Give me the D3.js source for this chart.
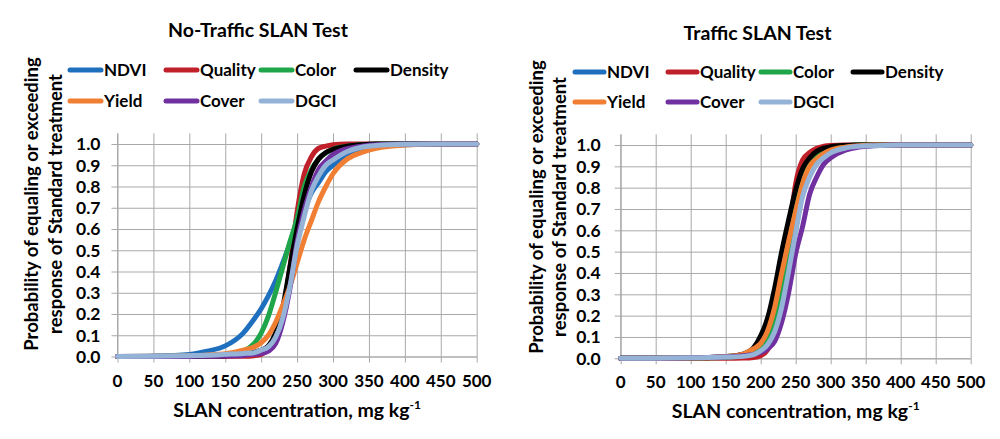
<!DOCTYPE html>
<html>
<head>
<meta charset="utf-8">
<script src="https://cdn.jsdelivr.net/npm/d3@7"></script>
<style>
  html, body { margin: 0; padding: 0; background: #ffffff; }
  svg { display: block; }
  text { font-family: Lato, "Open Sans", sans-serif; font-weight: bold; fill: #000; }
</style>
</head>
<body>
<svg id="chart" width="1000" height="439"></svg>
<script>
// ---------- DATA ----------
const xValues = [0, 50, 100, 125, 150, 175, 190, 200, 210, 220, 230, 240, 250, 260, 270, 280, 290, 300, 320, 340, 360, 400, 450, 500];

const seriesNames = ["NDVI", "Quality", "Color", "Density", "Yield", "Cover", "DGCI"];
const seriesColors = ["#1f6fbf", "#c0202a", "#1fa64a", "#000000", "#f07f33", "#7030a0", "#95b3d7"];

const xTickLabels = [0, 50, 100, 150, 200, 250, 300, 350, 400, 450, 500];
const yTickLabels = [0.0, 0.1, 0.2, 0.3, 0.4, 0.5, 0.6, 0.7, 0.8, 0.9, 1.0];

const panelTitles = ["No-Traffic SLAN Test", "Traffic SLAN Test"];

// No-Traffic panel
const noTrafficNDVI    = [0, 0.002, 0.01, 0.025, 0.05, 0.11, 0.175, 0.225, 0.285, 0.355, 0.44, 0.53, 0.61, 0.69, 0.77, 0.82, 0.87, 0.90, 0.95, 0.975, 0.987, 0.996, 1, 1];
const noTrafficQuality = [0, 0, 0, 0, 0.0005, 0.001, 0.004, 0.01, 0.03, 0.08, 0.2, 0.42, 0.68, 0.86, 0.94, 0.98, 0.99, 0.997, 1, 1, 1, 1, 1, 1];
const noTrafficColor   = [0, 0.0005, 0.002, 0.004, 0.01, 0.025, 0.06, 0.11, 0.19, 0.30, 0.42, 0.54, 0.65, 0.80, 0.88, 0.93, 0.958, 0.975, 0.99, 0.997, 1, 1, 1, 1];
const noTrafficDensity = [0, 0, 0.001, 0.002, 0.004, 0.01, 0.02, 0.03, 0.05, 0.11, 0.23, 0.42, 0.6, 0.76, 0.87, 0.93, 0.96, 0.975, 0.99, 0.997, 1, 1, 1, 1];
const noTrafficYield   = [0, 0.001, 0.004, 0.007, 0.013, 0.03, 0.045, 0.065, 0.1, 0.16, 0.24, 0.33, 0.44, 0.55, 0.64, 0.73, 0.8, 0.86, 0.93, 0.96, 0.98, 0.995, 1, 1];
const noTrafficCover   = [0, 0, 0.0005, 0.001, 0.002, 0.005, 0.01, 0.015, 0.025, 0.06, 0.16, 0.32, 0.54, 0.69, 0.8, 0.88, 0.92, 0.95, 0.978, 0.99, 0.996, 1, 1, 1];
const noTrafficDGCI    = [0, 0.001, 0.004, 0.006, 0.01, 0.014, 0.018, 0.03, 0.045, 0.09, 0.18, 0.33, 0.52, 0.66, 0.78, 0.85, 0.9, 0.925, 0.965, 0.985, 0.993, 0.999, 1, 1];

// Traffic panel
const trafficNDVI    = [0, 0, 0.001, 0.003, 0.007, 0.016, 0.035, 0.06, 0.11, 0.21, 0.36, 0.53, 0.7, 0.83, 0.91, 0.95, 0.975, 0.987, 0.996, 1, 1, 1, 1, 1];
const trafficQuality = [0, 0, 0, 0, 0, 0.001, 0.004, 0.012, 0.04, 0.12, 0.3, 0.57, 0.82, 0.93, 0.965, 0.985, 0.994, 0.998, 1, 1, 1, 1, 1, 1];
const trafficColor   = [0, 0, 0.001, 0.002, 0.005, 0.012, 0.025, 0.04, 0.085, 0.17, 0.32, 0.52, 0.74, 0.85, 0.92, 0.96, 0.978, 0.988, 0.996, 1, 1, 1, 1, 1];
const trafficDensity = [0, 0, 0.001, 0.003, 0.008, 0.02, 0.05, 0.105, 0.19, 0.33, 0.5, 0.65, 0.79, 0.89, 0.94, 0.97, 0.985, 0.992, 0.998, 1, 1, 1, 1, 1];
const trafficYield   = [0, 0, 0.001, 0.003, 0.008, 0.02, 0.045, 0.07, 0.13, 0.24, 0.4, 0.55, 0.69, 0.82, 0.9, 0.935, 0.96, 0.976, 0.99, 0.996, 1, 1, 1, 1];
const trafficCover   = [0, 0, 0.002, 0.004, 0.007, 0.012, 0.018, 0.027, 0.045, 0.08, 0.17, 0.31, 0.49, 0.62, 0.77, 0.85, 0.91, 0.94, 0.975, 0.99, 0.996, 1, 1, 1];
const trafficDGCI    = [0, 0.0005, 0.002, 0.004, 0.006, 0.009, 0.017, 0.035, 0.065, 0.125, 0.24, 0.41, 0.59, 0.76, 0.85, 0.91, 0.94, 0.963, 0.985, 0.994, 0.997, 1, 1, 1];

const noTrafficSeries = [noTrafficNDVI, noTrafficQuality, noTrafficColor, noTrafficDensity, noTrafficYield, noTrafficCover, noTrafficDGCI];
const trafficSeries   = [trafficNDVI, trafficQuality, trafficColor, trafficDensity, trafficYield, trafficCover, trafficDGCI];

// ---------- DRAWING ----------
const svg = d3.select("#chart");

function drawPanel(cfg) {
  const g = svg.append("g");
  const x = d3.scaleLinear().domain([0, 500]).range([cfg.x0, cfg.x1]);
  const y = d3.scaleLinear().domain([0, 1]).range([cfg.yBottom, cfg.yTop]);
  const yTopDomain = y(1.05);

  // vertical gridlines
  g.append("g").attr("transform", `translate(0,${cfg.yBottom})`)
    .call(d3.axisBottom(x).tickValues(xTickLabels)
      .tickSize(-(cfg.yBottom - yTopDomain)).tickSizeOuter(0).tickFormat(""))
    .call(a => a.select(".domain").remove())
    .call(a => a.selectAll("line").attr("stroke", "#a9a9a9").attr("stroke-width", 1));
  g.append("g").attr("transform", `translate(0,${cfg.yBottom})`)
    .call(d3.axisBottom(x).tickValues(xTickLabels).tickSize(6).tickSizeOuter(0).tickFormat(""))
    .call(a => a.select(".domain").attr("stroke", "#a9a9a9"))
    .call(a => a.selectAll("line").attr("stroke", "#a9a9a9"));

  // horizontal gridlines
  g.append("g").attr("transform", `translate(${cfg.x0},0)`)
    .call(d3.axisLeft(y).tickValues(yTickLabels)
      .tickSize(-(cfg.x1 - cfg.x0)).tickSizeOuter(0).tickFormat(""))
    .call(a => a.select(".domain").remove())
    .call(a => a.selectAll("line").attr("stroke", "#a9a9a9").attr("stroke-width", 1));
  g.append("g").attr("transform", `translate(${cfg.x0},0)`)
    .call(d3.axisLeft(y).tickValues(yTickLabels).tickSize(6).tickSizeOuter(0).tickFormat(""))
    .call(a => a.select(".domain").attr("stroke", "#a9a9a9").attr("d", `M0,${cfg.yBottom}V${yTopDomain}`))
    .call(a => a.selectAll("line").attr("stroke", "#a9a9a9"));

  // tick labels
  g.append("g").selectAll("text").data(xTickLabels).join("text")
    .attr("x", d => x(d)).attr("y", cfg.yBottom + 30)
    .attr("text-anchor", "middle").attr("font-size", 17)
    .text(d => d);
  g.append("g").selectAll("text").data(yTickLabels).join("text")
    .attr("x", cfg.x0 - cfg.yLabelGap).attr("y", d => y(d)).attr("dy", "0.36em")
    .attr("text-anchor", "end").attr("font-size", 17.5)
    .text(d => d3.format(".1f")(d));

  // series lines
  const line = d3.line()
    .x((d, i) => x(xValues[i]))
    .y(d => y(d))
    .curve(d3.curveMonotoneX);
  cfg.series.forEach((vals, k) => {
    g.append("path").datum(vals)
      .attr("d", line)
      .attr("fill", "none")
      .attr("stroke", seriesColors[k])
      .attr("stroke-width", 5)
      .attr("stroke-linecap", "round")
      .attr("stroke-linejoin", "round");
  });

  // title
  g.append("text").attr("x", cfg.titleX).attr("y", cfg.titleY)
    .attr("text-anchor", "middle").attr("font-size", 19.5).text(cfg.title);

  // legend
  seriesNames.forEach((name, k) => {
    const col = k < 4 ? k : k - 4;
    const row = k < 4 ? 0 : 1;
    const lx = cfg.legendCols[col];
    const ly = cfg.legendRows[row];
    g.append("line").attr("x1", lx).attr("x2", lx + cfg.legendLine)
      .attr("y1", ly).attr("y2", ly)
      .attr("stroke", seriesColors[k]).attr("stroke-width", 5).attr("stroke-linecap", "round");
    g.append("text").attr("x", lx + cfg.legendLine + 3).attr("y", ly).attr("dy", "0.36em")
      .attr("font-size", 17).text(name);
  });

  // axis titles
  const xt = g.append("text").attr("x", (cfg.x0 + cfg.x1) / 2).attr("y", cfg.xTitleY)
    .attr("text-anchor", "middle").attr("font-size", 19.5);
  xt.append("tspan").text("SLAN concentration, mg kg");
  xt.append("tspan").attr("font-size", 12).attr("dy", -8).text("-1");

  const yc = cfg.yTitleCenter;
  g.append("text").attr("transform", `translate(${cfg.yTitleX1},${yc}) rotate(-90)`)
    .attr("text-anchor", "middle").attr("font-size", 18.5)
    .text("Probability of equaling or exceeding");
  g.append("text").attr("transform", `translate(${cfg.yTitleX2},${yc}) rotate(-90)`)
    .attr("text-anchor", "middle").attr("font-size", 18.5)
    .text("response of Standard treatment");
}

drawPanel({
  title: panelTitles[0], series: noTrafficSeries,
  x0: 117.5, x1: 476.7, yTop: 144, yBottom: 356.5, yLabelGap: 17,
  titleX: 258, titleY: 37,
  legendCols: [70, 166, 261, 356], legendRows: [70, 101], legendLine: 31,
  xTitleY: 417, yTitleX1: 38, yTitleX2: 61.5, yTitleCenter: 204
});
drawPanel({
  title: panelTitles[1], series: trafficSeries,
  x0: 620.7, x1: 970.7, yTop: 145, yBottom: 358.3, yLabelGap: 20,
  titleX: 757.5, titleY: 40,
  legendCols: [575, 668, 761, 853], legendRows: [72, 102], legendLine: 29,
  xTitleY: 418, yTitleX1: 543, yTitleX2: 566, yTitleCenter: 207
});
</script>
</body>
</html>
